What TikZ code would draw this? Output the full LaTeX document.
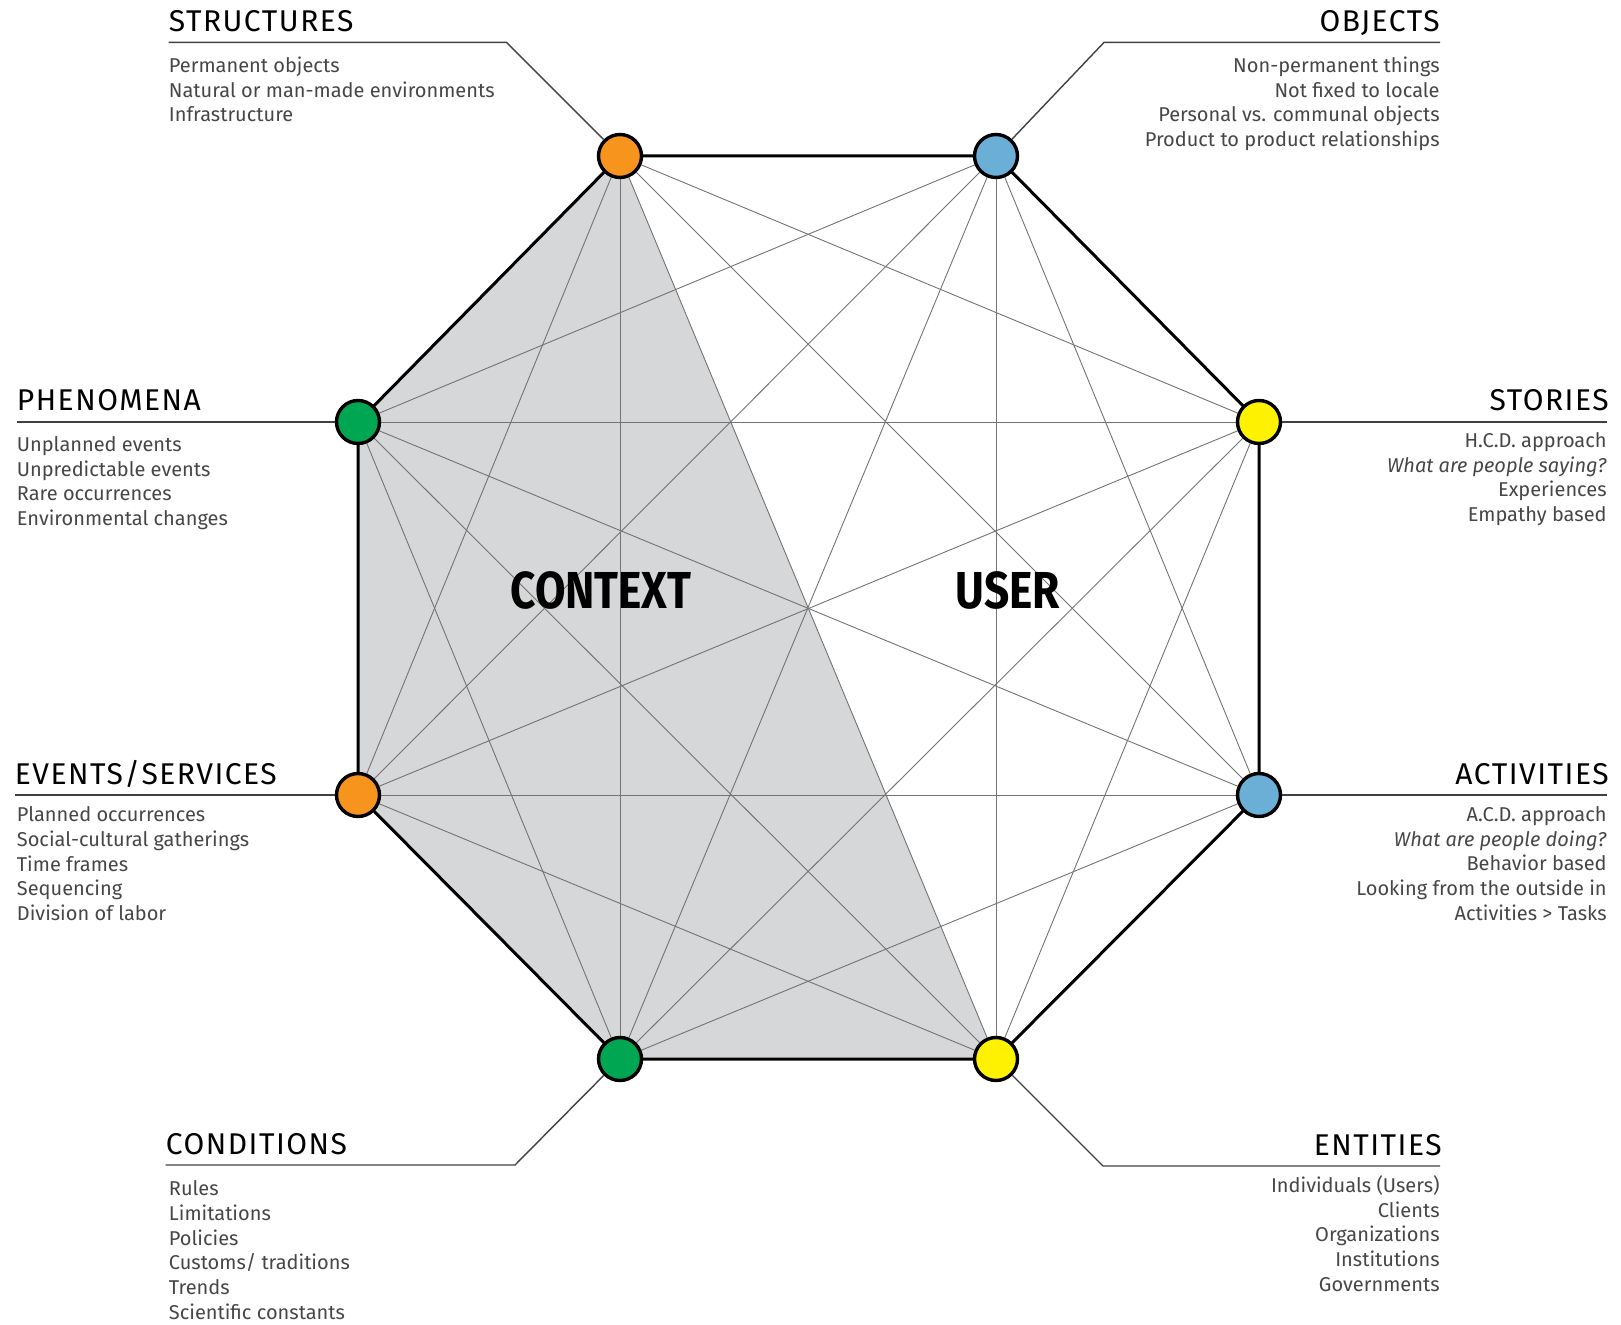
\documentclass[tikz,border=0pt]{standalone}
\usepackage{fontspec}
\setmainfont{Fira Sans}
\newfontfamily\headfont{Fira Sans}[LetterSpace=5]
\newfontfamily\bigfont{Fira Sans}[FakeStretch=0.85]
\usetikzlibrary{calc}
\usetikzlibrary{backgrounds}
\usepackage{xcolor}

\definecolor{dotorange}{HTML}{F7941D}
\definecolor{dotblue}{HTML}{6BAED6}
\definecolor{dotgreen}{HTML}{00A651}
\definecolor{dotyellow}{HTML}{FFF200}
\definecolor{panelgray}{HTML}{D6D7D9}
\definecolor{textgray}{HTML}{464646}

\tikzset{
  dot/.style={circle, draw=black, line width=1.7pt, minimum size=21.5pt, inner sep=0pt},
  chord/.style={draw=black!55, line width=0.45pt},
  rim/.style={draw=black, line width=1.5pt, line join=round},
  lead/.style={draw=black!75, line width=0.7pt},
  head/.style={font=\headfont\fontsize{15}{18}\selectfont, inner sep=0pt},
  body/.style={font=\fontsize{10}{12.4}\selectfont, text=textgray, inner sep=0pt},
  big/.style={font=\bigfont\bfseries\fontsize{26}{30}\selectfont, inner sep=0pt}
}

\begin{document}
\begin{tikzpicture}[x=0.5pt,y=-0.5pt]

        \useasboundingbox (0,0) rectangle (1621,1325);

        % Corners
        \foreach \n/\x/\y/\c in {st/620/156/dotorange, ob/996/156/dotblue,
          sr/1259/422/dotyellow, ac/1259/795/dotblue, en/996/1059/dotyellow,
          co/620/1059/dotgreen, ev/358/795/dotorange, ph/358/422/dotgreen}
        {
          \node[dot, fill=\c] (\n) at (\x,\y) {};
        }

        % Panel, chords and rim
        \begin{scope}[on background layer]
          \fill[panelgray] (st.center) -- (ph.center) -- (ev.center) -- (co.center) -- (en.center) -- cycle;
          \foreach \a [count=\i] in {st,ob,sr,ac,en,co,ev,ph}
          {
            \foreach \b [count=\j] in {st,ob,sr,ac,en,co,ev,ph}
            {
              \ifnum\j>\i \draw[chord] (\a) -- (\b); \fi
            }
          }
          \draw[rim] (st.center) -- (ob.center) -- (sr.center) -- (ac.center) -- (en.center)
            -- (co.center) -- (ev.center) -- (ph.center) -- cycle;
        \end{scope}

        % Structures
        \coordinate (st-k) at (506.6,42.4);
        \coordinate (st-e) at (168.5,42.4);
        \draw[lead] (st) -- (st-k) -- (st-e);
        \node[head, anchor=base west] (st-h) at ($(st-e)+(0,-11)$) {STRUCTURES};
        \node[body, anchor=north west, align=left] (st-b) at ($(st-e)+(0,14)$)
          {Permanent objects\\Natural or man-made environments\\Infrastructure};

        % Objects
        \coordinate (ob-k) at (1104,42.4);
        \coordinate (ob-e) at (1440,42.4);
        \draw[lead] (ob) -- (ob-k) -- (ob-e);
        \node[head, anchor=base east] (ob-h) at ($(ob-e)+(0,-11)$) {OBJECTS};
        \node[body, anchor=north east, align=right] (ob-b) at ($(ob-e)+(0,14)$)
          {Non-permanent things\\Not fixed to locale\\Personal vs. communal objects\\Product to product relationships};

        % Phenomena
        \coordinate (ph-e) at (16.5,422);
        \draw[lead] (ph) -- (ph-e);
        \node[head, anchor=base west] (ph-h) at ($(ph-e)+(0,-11)$) {PHENOMENA};
        \node[body, anchor=north west, align=left] (ph-b) at ($(ph-e)+(0,14)$)
          {Unplanned events\\Unpredictable events\\Rare occurrences\\Environmental changes};

        % Stories
        \coordinate (sr-e) at (1607,422);
        \draw[lead] (sr) -- (sr-e);
        \node[head, anchor=base east] (sr-h) at ($(sr-e)+(2,-11)$) {STORIES};
        \node[body, anchor=north east, align=right] (sr-b) at ($(sr-e)+(0,10)$)
          {H.C.D. approach\\\textit{What are people saying?}\\Experiences\\Empathy based};

        % Events / services
        \coordinate (ev-e) at (14.5,795);
        \draw[lead] (ev) -- (ev-e);
        \node[head, anchor=base west] (ev-h) at ($(ev-e)+(0,-11)$) {EVENTS/SERVICES};
        \node[body, anchor=north west, align=left] (ev-b) at ($(ev-e)+(2,11)$)
          {Planned occurrences\\Social-cultural gatherings\\Time frames\\Sequencing\\Division of labor};

        % Activities
        \coordinate (ac-e) at (1607,795);
        \draw[lead] (ac) -- (ac-e);
        \node[head, anchor=base east] (ac-h) at ($(ac-e)+(2,-11)$) {ACTIVITIES};
        \node[body, anchor=north east, align=right] (ac-b) at ($(ac-e)+(0,11)$)
          {A.C.D. approach\\\textit{What are people doing?}\\Behavior based\\Looking from the outside in\\Activities > Tasks};

        % Conditions
        \coordinate (co-k) at (515,1165);
        \coordinate (co-e) at (165.5,1165);
        \draw[lead] (co) -- (co-k) -- (co-e);
        \node[head, anchor=base west] (co-h) at ($(co-e)+(0,-11)$) {CONDITIONS};
        \node[body, anchor=north west, align=left] (co-b) at ($(co-e)+(3,15)$)
          {Rules\\Limitations\\Policies\\Customs/ traditions\\Trends\\Scientific constants};

        % Entities
        \coordinate (en-k) at (1103,1166);
        \coordinate (en-e) at (1440,1166);
        \draw[lead] (en) -- (en-k) -- (en-e);
        \node[head, anchor=base east] (en-h) at ($(en-e)+(2,-11)$) {ENTITIES};
        \node[body, anchor=north east, align=right] (en-b) at ($(en-e)+(0,9)$)
          {Individuals (Users)\\Clients\\Organizations\\Institutions\\Governments};

        % Halves
        \node[big] (ctx) at (601,590) {CONTEXT};
        \node[big] (usr) at (1008,590) {USER};
    \end{tikzpicture}
\end{document}
